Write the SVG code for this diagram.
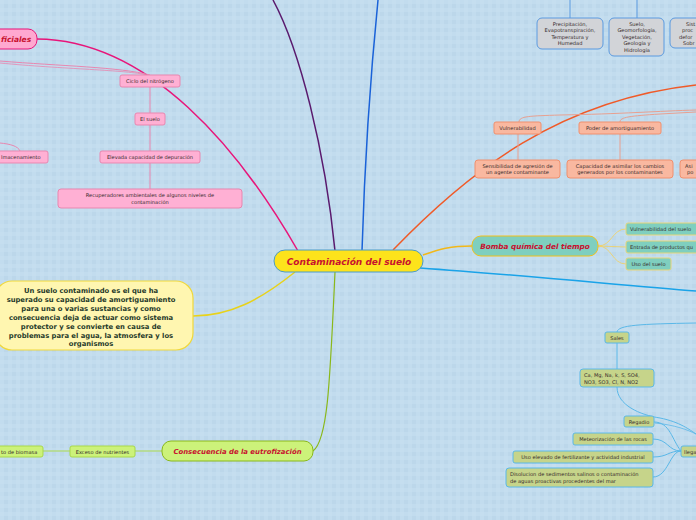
<svg xmlns="http://www.w3.org/2000/svg" width="696" height="520" viewBox="0 0 696 520">
<defs>
<pattern id="grid" width="8" height="8" patternUnits="userSpaceOnUse">
<rect width="8" height="8" fill="#bcd7ea"/>
<rect x="0" y="0" width="4" height="8" fill="#c6dff0" opacity="0.6"/>
<rect x="0" y="0" width="8" height="4" fill="#c6dff0" opacity="0.6"/>
</pattern>
<style>
.t{font-family:"DejaVu Sans",Verdana,sans-serif;}
.s{font-size:5.1px;fill:#352a2a;text-anchor:middle;}
.main{font-size:7px;font-weight:bold;font-style:italic;fill:#c8102e;text-anchor:middle;}
.pk{fill:#ffb0d4;stroke:#e887b0;stroke-width:1;}
.gr{fill:#d2d4d8;stroke:#5a9ae0;stroke-width:1;}
.sa{fill:#f9b8a0;stroke:#f0906e;stroke-width:1;}
.te{fill:#7fcfbf;stroke:#e8d67a;stroke-width:1;}
.ol{fill:#c6d48a;stroke:#5ab8e8;stroke-width:1;}
.lg{fill:#ccf27a;stroke:#a8d84a;stroke-width:1;}
.c{fill:none;}
</style>
</defs>
<rect width="696" height="520" fill="url(#grid)"/>

<g id="connectors" class="c">
<path d="M37,39 C150,40 240,150 298,251" stroke="#e8157a" stroke-width="1.5"/>
<path d="M335,251 C325,150 300,50 273,0" stroke="#5a1a6e" stroke-width="1.5"/>
<path d="M362,251 C365,150 372,60 378,0" stroke="#1a62d8" stroke-width="1.5"/>
<path d="M393,250 C470,170 560,100 696,85" stroke="#f05a28" stroke-width="1.5"/>
<path d="M423,255 C440,249 450,246 472,246" stroke="#f2b81a" stroke-width="1.5"/>
<path d="M420,268 C520,275 620,285 696,291" stroke="#1aa3e8" stroke-width="1.5"/>
<path d="M335,272 C330,380 328,440 313,451" stroke="#8ab81a" stroke-width="1.2"/>
<path d="M295,272 C260,300 230,316 193,316" stroke="#e8d21a" stroke-width="1.5"/>
<path d="M0,61 C60,66 120,67 150,75" stroke="#e887b0" stroke-width="1"/>
<path d="M0,63 C60,69 130,70 146,75" stroke="#e887b0" stroke-width="0.8"/>
<path d="M150,87 L150,189" stroke="#e887b0" stroke-width="1"/>
<path d="M0,143 C10,144 18,146 20,151" stroke="#e887b0" stroke-width="1"/>
<path d="M570,0 L570,18" stroke="#5a9ae0" stroke-width="1"/>
<path d="M637,0 L637,18" stroke="#5a9ae0" stroke-width="1"/>
<path d="M519,122 C519,116 530,116 560,115 C620,114 660,111 696,110" stroke="#e8a090" stroke-width="1"/>
<path d="M620,122 C620,117 630,116 660,114 L696,112" stroke="#e8a090" stroke-width="1"/>
<path d="M518,134 L518,160" stroke="#e8a090" stroke-width="1"/>
<path d="M620,134 L620,160" stroke="#e8a090" stroke-width="1"/>
<path d="M598,246 C612,246 612,229 626,229" stroke="#f5d05a" stroke-width="0.8"/>
<path d="M598,246 L626,247" stroke="#f5d05a" stroke-width="0.8"/>
<path d="M598,246 C612,246 612,264 626,264" stroke="#f5d05a" stroke-width="0.8"/>
<path d="M617,332 C618,325 640,324 696,323" stroke="#5ab8e8" stroke-width="1"/>
<path d="M617,343 L617,369" stroke="#5ab8e8" stroke-width="1"/>
<path d="M617,387 C617,405 640,415 660,418 C680,422 690,430 696,434" stroke="#5ab8e8" stroke-width="1"/>
<path d="M654,422 C670,422 672,440 681,451" stroke="#5ab8e8" stroke-width="1"/>
<path d="M653,439 C668,439 668,451 681,451" stroke="#5ab8e8" stroke-width="1"/>
<path d="M653,457 C668,457 668,451 681,451" stroke="#5ab8e8" stroke-width="1"/>
<path d="M653,477 C668,477 670,451 681,451" stroke="#5ab8e8" stroke-width="1"/>
<path d="M655,423 C675,425 688,430 696,434" stroke="#5ab8e8" stroke-width="0.8"/>
<path d="M135,451 L162,451" stroke="#a8d84a" stroke-width="1"/>
<path d="M43,451 L70,451" stroke="#a8d84a" stroke-width="1"/>
</g>

<g id="central">
<rect x="274" y="250" width="149" height="22" rx="11" fill="#fde31b" stroke="#4a9bc9" stroke-width="1"/>
<text class="t main" x="349" y="265" style="font-size:9px">Contaminación del suelo</text>
</g>

<g id="ficiales">
<rect x="-20" y="29" width="57" height="20" rx="9" fill="#ffa8d0" stroke="#e8157a" stroke-width="1"/>
<text class="t main" x="1" y="42" style="text-anchor:start;font-size:7.5px">ficiales</text>
</g>
<g id="ciclo"><rect class="pk" x="120" y="75" width="60" height="12" rx="2"/><text class="t s" x="150" y="83">Ciclo del nitrógeno</text></g>
<g id="elsuelo"><rect class="pk" x="135" y="113" width="30" height="12" rx="2"/><text class="t s" x="150" y="121">El suelo</text></g>
<g id="elevada"><rect class="pk" x="100" y="151" width="100" height="12" rx="2"/><text class="t s" x="150" y="159">Elevada capacidad de depuración</text></g>
<g id="recuperadores"><rect class="pk" x="58" y="189" width="184" height="19" rx="3"/><text class="t s" x="150" y="197">Recuperadores ambientales de algunos niveles de</text><text class="t s" x="150" y="204">contaminación</text></g>
<g id="almacenamiento"><rect class="pk" x="-10" y="151" width="58" height="12" rx="2"/><text class="t s" x="1" y="159" style="text-anchor:start">lmacenamiento</text></g>

<g id="precipitacion"><rect class="gr" x="537" y="18" width="66" height="31" rx="5"/>
<text class="t s" x="570" y="26">Precipitación,</text><text class="t s" x="570" y="32">Evapotranspiración,</text><text class="t s" x="570" y="38.5">Temperatura y</text><text class="t s" x="570" y="45">Humedad</text></g>
<g id="suelo-geo"><rect class="gr" x="609" y="18" width="55" height="38" rx="5"/>
<text class="t s" x="637" y="26">Suelo,</text><text class="t s" x="637" y="32">Geomorfología,</text><text class="t s" x="637" y="38.5">Vegetación,</text><text class="t s" x="637" y="45">Geología y</text><text class="t s" x="637" y="51.5">Hidrología</text></g>
<g id="sist"><rect class="gr" x="670" y="18" width="40" height="30" rx="5"/>
<text class="t s" x="686" y="26" style="text-anchor:start">Sist</text><text class="t s" x="682" y="32" style="text-anchor:start">proc</text><text class="t s" x="679" y="38.5" style="text-anchor:start">defor</text><text class="t s" x="683" y="45" style="text-anchor:start">Sobr</text></g>

<g id="vulnerabilidad"><rect class="sa" x="494" y="122" width="47" height="12" rx="2"/><text class="t s" x="517.5" y="130">Vulnerabilidad</text></g>
<g id="poder"><rect class="sa" x="579" y="122" width="82" height="12" rx="2"/><text class="t s" x="620" y="130">Poder de amortiguamiento</text></g>
<g id="sensibilidad"><rect class="sa" x="475" y="160" width="85" height="18" rx="3"/><text class="t s" x="517.5" y="167.5">Sensibilidad de agresión de</text><text class="t s" x="517.5" y="174">un agente contaminante</text></g>
<g id="capacidad"><rect class="sa" x="567" y="160" width="106" height="18" rx="3"/><text class="t s" x="620" y="167.5">Capacidad de asimilar los cambios</text><text class="t s" x="620" y="174">generados por los contaminantes</text></g>
<g id="asi"><rect class="sa" x="680" y="160" width="30" height="18" rx="3"/><text class="t s" x="685" y="167.5" style="text-anchor:start">Asi</text><text class="t s" x="687" y="174" style="text-anchor:start">po</text></g>

<g id="bomba"><rect x="472" y="236" width="126" height="20" rx="9" fill="#7fcfbf" stroke="#f2c01a" stroke-width="1"/><text class="t main" x="535" y="249" style="font-size:7.3px">Bomba química del tiempo</text></g>
<g id="vul-suelo"><rect class="te" x="626" y="223" width="80" height="12" rx="2"/><text class="t s" x="630" y="231" style="text-anchor:start">Vulnerabilidad del suelo</text></g>
<g id="entrada"><rect class="te" x="626" y="241" width="80" height="12" rx="2"/><text class="t s" x="630" y="249" style="text-anchor:start">Entrada de productos qu</text></g>
<g id="uso-suelo"><rect class="te" x="626" y="258" width="45" height="12" rx="2"/><text class="t s" x="648.5" y="266">Uso del suelo</text></g>

<g id="sales"><rect class="ol" x="605" y="332" width="24" height="11" rx="2"/><text class="t s" x="617" y="339.5">Sales</text></g>
<g id="ca"><rect class="ol" x="580" y="369" width="74" height="18" rx="3"/><text class="t s" x="584" y="376.5" style="text-anchor:start">Ca, Mg, Na, k, S, SO4,</text><text class="t s" x="584" y="383.5" style="text-anchor:start">NO3, SO3, Cl, N, NO2</text></g>
<g id="regadio"><rect class="ol" x="624" y="416" width="30" height="11" rx="2"/><text class="t s" x="639" y="424">Regadio</text></g>
<g id="meteorizacion"><rect class="ol" x="573" y="433" width="80" height="12" rx="2"/><text class="t s" x="613" y="441">Meteorización de las rocas</text></g>
<g id="uso-fert"><rect class="ol" x="513" y="451" width="140" height="12" rx="2"/><text class="t s" x="583" y="459">Uso elevado de fertilizante y actividad industrial</text></g>
<g id="disolucion"><rect class="ol" x="506" y="468" width="147" height="19" rx="3"/><text class="t s" x="510" y="476" style="text-anchor:start">Disolucion de sedimentos salinos o contaminación</text><text class="t s" x="510" y="483" style="text-anchor:start">de aguas proactivas procedentes del mar</text></g>
<g id="rega"><rect class="ol" x="681" y="446" width="30" height="11" rx="2"/><text class="t s" x="684" y="454" style="text-anchor:start">llega</text></g>

<g id="consecuencia"><rect x="162" y="441" width="151" height="20" rx="9" fill="#ccf27a" stroke="#8ab81a" stroke-width="1"/><text class="t main" x="237.5" y="454" style="font-size:6.9px">Consecuencia de la eutrofización</text></g>
<g id="exceso"><rect class="lg" x="70" y="446" width="65" height="11" rx="2"/><text class="t s" x="102.5" y="454">Exceso de nutrientes</text></g>
<g id="biomasa"><rect class="lg" x="-20" y="446" width="63" height="11" rx="2"/><text class="t s" x="1" y="454" style="text-anchor:start">to de biomasa</text></g>

<g id="definicion"><rect x="-5" y="281" width="198" height="69" rx="17" fill="#fff6b0" stroke="#f0d83a" stroke-width="1.2"/>
<g class="t" style="font-size:6.8px;font-weight:bold;fill:#1f3a2a;text-anchor:middle">
<text x="91" y="293">Un suelo contaminado es el que ha</text>
<text x="91" y="302">superado su capacidad de amortiguamiento</text>
<text x="91" y="311">para una o varias sustancias y como</text>
<text x="91" y="320">consecuencia deja de actuar como sistema</text>
<text x="91" y="329">protector y se convierte en causa de</text>
<text x="91" y="338">problemas para el agua, la atmosfera y los</text>
<text x="91" y="346">organismos</text>
</g></g>
</svg>
